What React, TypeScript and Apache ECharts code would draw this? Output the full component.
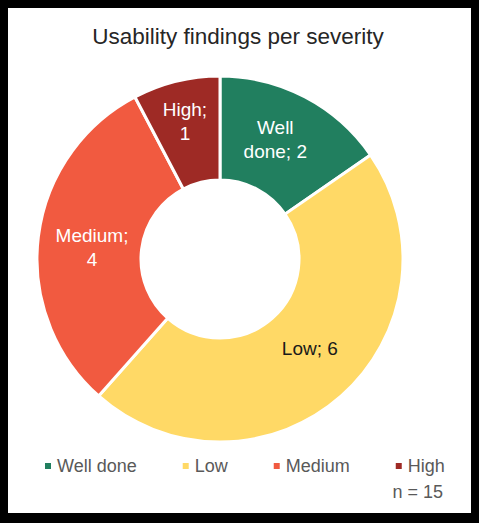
import React, { useEffect, useRef } from "react";
import * as echarts from "echarts";

const categories = ["Well done", "Low", "Medium", "High"];
const values = [2, 6, 4, 1];
const colors = ["#217F5F", "#FFD966", "#F15A40", "#9E2A25"];
const labelTexts = ["Well\ndone; 2", "Low; 6", "Medium;\n4", "High;\n1"];
const labelColors = ["#FFFFFF", "#1A1A1A", "#FFFFFF", "#FFFFFF"];
const labelOffsets = [[-7, -1], [1, -11], [5, 5], [-3, -7]];
const titleText = "Usability findings per severity";
const noteText = "n = 15";

const FONT = "'Liberation Sans', Arial, sans-serif";

export default function App() {
  const ref = useRef<HTMLDivElement>(null);
  useEffect(() => {
    if (!ref.current) return;
    const chart = echarts.init(ref.current, undefined, { renderer: "svg" });
    chart.setOption({
      animation: false,
      backgroundColor: "#FFFFFF",
      title: {
        text: titleText,
        left: 225,
        textAlign: "center",
        top: 12,
        textStyle: { fontFamily: FONT, fontSize: 22.5, fontWeight: "normal", color: "#262626" },
      },
      legend: {
        data: categories,
        left: 30,
        top: 444,
        itemWidth: 8,
        itemHeight: 8,
        itemGap: 44,
        icon: "rect",
        textStyle: { fontFamily: FONT, fontSize: 18, color: "#595959" },
      },
      graphic: [
        {
          type: "text",
          right: 28,
          top: 475,
          style: { text: noteText, font: `18px ${FONT}`, fill: "#595959" },
        },
      ],
      series: [
        {
          type: "pie",
          center: [212, 251],
          radius: [79, 183],
          startAngle: 90,
          clockwise: true,
          avoidLabelOverlap: false,
          itemStyle: { borderColor: "#FFFFFF", borderWidth: 3 },
          emphasis: { disabled: true },
          data: categories.map((name, i) => ({
            name,
            value: values[i],
            itemStyle: { color: colors[i] },
            label: {
              show: true,
              position: "inside",
              formatter: labelTexts[i],
              color: labelColors[i],
              fontFamily: FONT,
              fontSize: 19,
              lineHeight: 24,
              align: "center",
              offset: labelOffsets[i],
            },
          })),
          labelLine: { show: false },
        },
      ],
    });
    return () => chart.dispose();
  }, []);
  return (
    <div style={{ position: "fixed", left: 0, top: 0, width: 479, height: 523, background: "#000" }}>
      <div ref={ref} style={{ position: "absolute", left: 8, top: 8, width: 463, height: 505 }} />
    </div>
  );
}
